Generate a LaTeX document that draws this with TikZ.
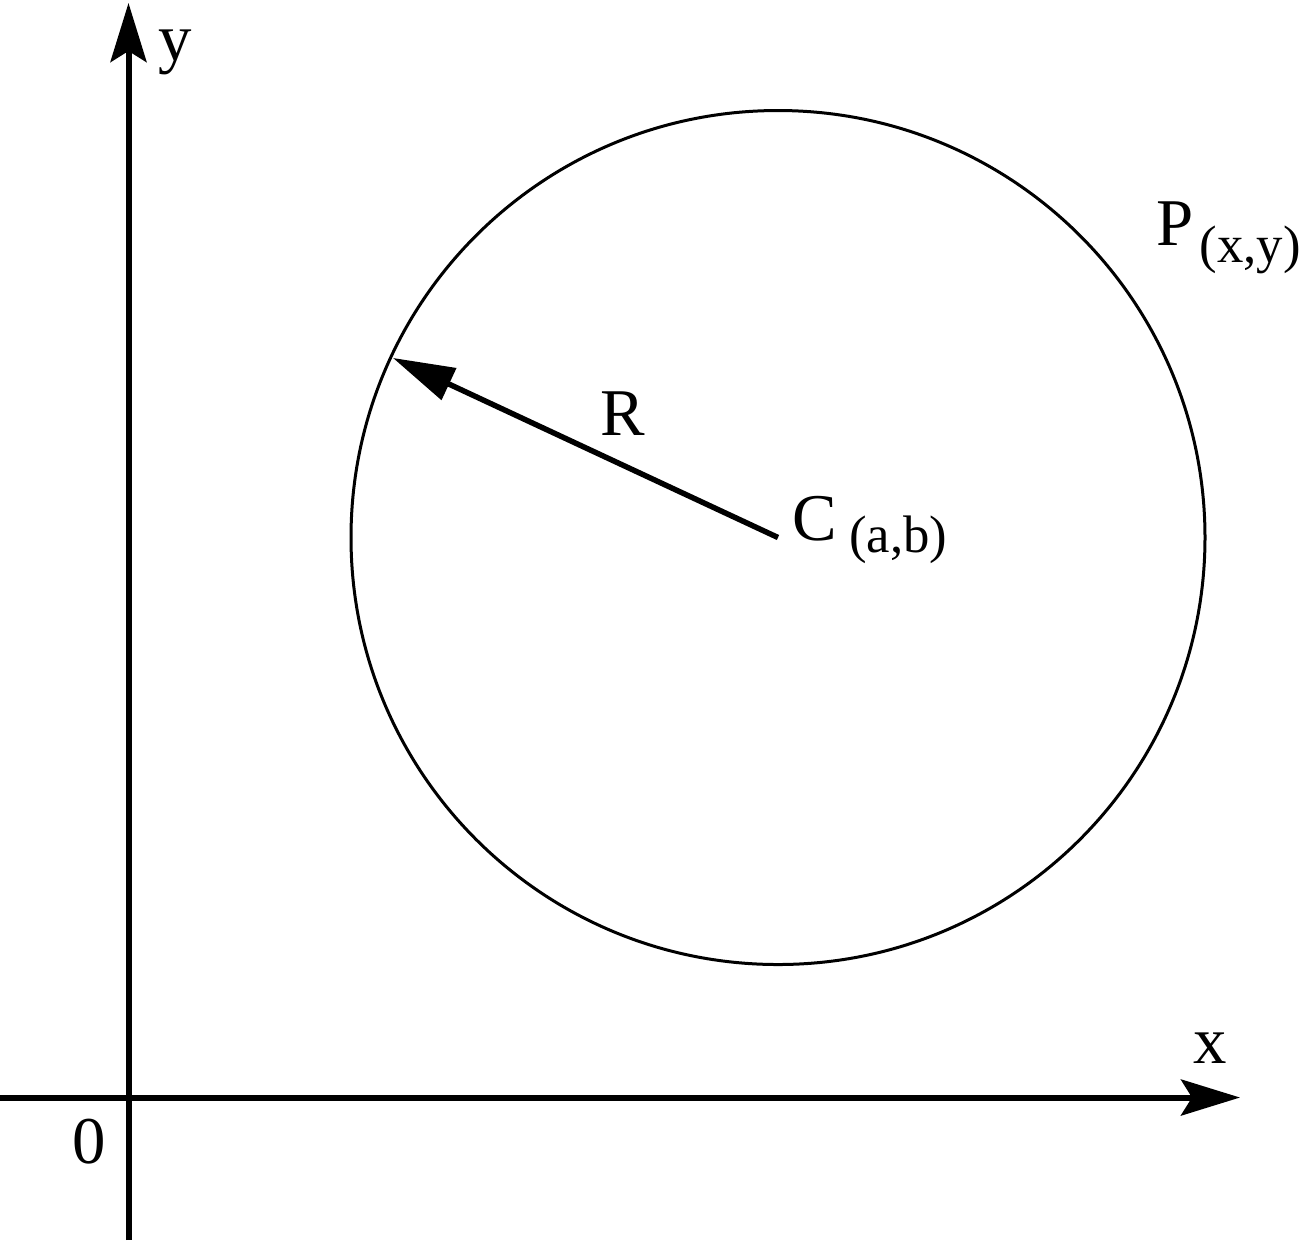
\documentclass[tikz,border=0pt]{standalone}
\usepackage{fontspec}
\setmainfont{Liberation Serif}
\usetikzlibrary{arrows.meta,calc}
\newcommand{\subtext}[3]{\hspace{#1}\raisebox{-#2}{\fontsize{15}{18}\selectfont (#3)}}

\begin{document}
\begin{tikzpicture}[x=1cm, y=1cm, font=\fontsize{19}{23}\selectfont]

        \useasboundingbox (0,0) rectangle (13.02,-12.40);

        % Points
        \coordinate (xstart) at (0,-10.975);
        \coordinate (xend) at (12.40,-10.975);
        \coordinate (ystart) at (1.285,-12.40);
        \coordinate (yend) at (1.285,-0.03);
        \coordinate (cen) at (7.78,-5.375);
        \coordinate (rim) at ($(cen)+(155:4.25)$);

        % Nodes
        \node (ylabel) [anchor=base west, inner sep=0] at (1.58,-0.60) {y};
        \node (xlabel) [anchor=base west, inner sep=0] at (11.93,-10.63) {x};
        \node (zero) [anchor=base west, inner sep=0] at (0.72,-11.63) {0};
        \node (rlabel) [anchor=base west, inner sep=0] at (6.00,-4.35) {R};
        \node (clabel) [anchor=base west, inner sep=0] at (7.92,-5.40) {C\subtext{0.12cm}{0.12cm}{a,b}};
        \node (plabel) [anchor=base west, inner sep=0] at (11.56,-2.45) {P\subtext{0.06cm}{0.17cm}{x,y}};

        % Circle
        \draw[line width=0.03cm] (cen) circle (4.27);

        % Arrows
        \foreach \i/\j in {xstart/xend, ystart/yend} {
            \draw[line width=0.06cm, -{Stealth[length=0.59cm, width=0.36cm, inset=0.11cm]}] (\i) -- (\j);
        }
        \draw[line width=0.055cm, -{Triangle[length=0.62cm, width=0.34cm]}] (cen) -- (rim);

    \end{tikzpicture}
\end{document}
